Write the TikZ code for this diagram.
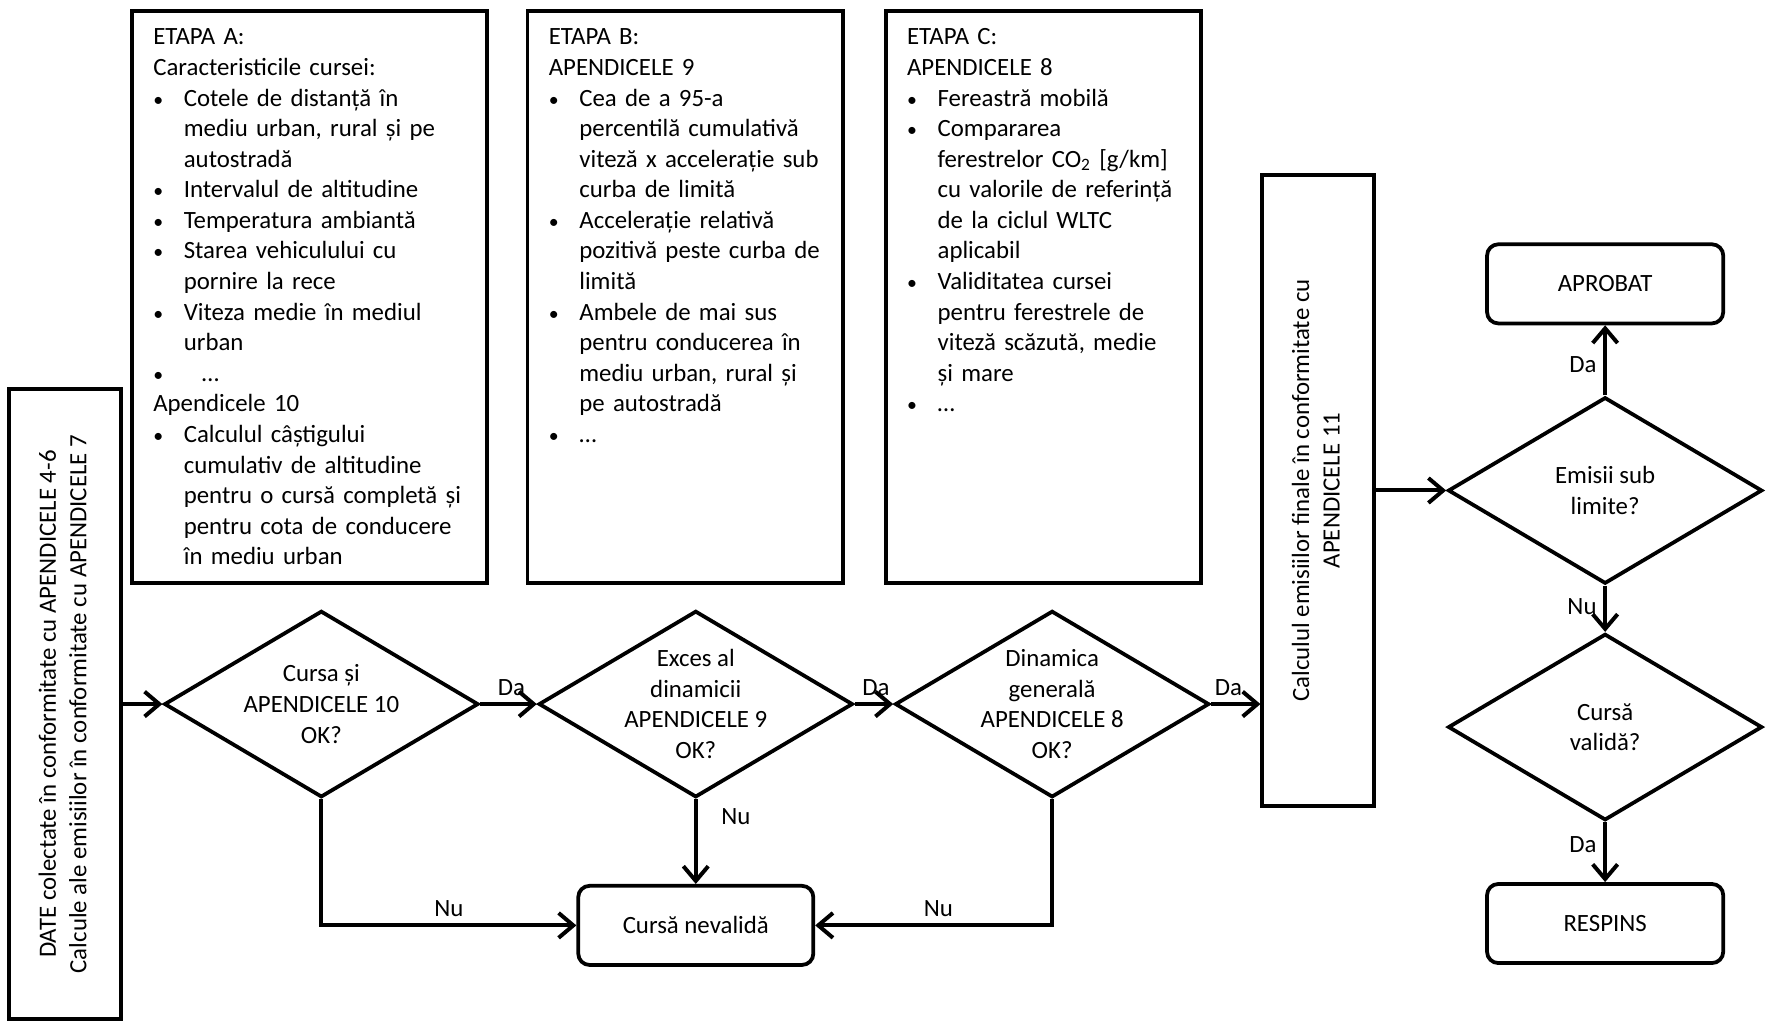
\documentclass[tikz,border=0pt]{standalone}
\usepackage{fontspec}
\setmainfont{Carlito}
\usetikzlibrary{shapes.geometric, arrows.meta, positioning}
\newcommand{\bl}{\makebox[0.54cm][l]{\scalebox{0.8}{\textbullet}}}
\newcommand{\ind}{\hspace*{0.54cm}}
\tikzset{
    stage/.style={rectangle, draw, line width=1.9pt, align=left, anchor=north west, inner xsep=0.38cm, inner ysep=0.22cm, text height=0.38cm, text depth=9.3cm},
    tall/.style={rectangle, draw, line width=1.9pt, minimum width=1.98cm, minimum height=11.16cm, inner sep=0pt},
    decision/.style={diamond, draw, line width=1.9pt, aspect=1.7, inner sep=-0.2cm, minimum width=5.56cm, minimum height=3.3cm, align=center},
    block/.style={rectangle, draw, line width=1.9pt, rounded corners=0.2cm, minimum width=4.18cm, minimum height=1.4cm},
    arrow/.style={-{Straight Barb[length=2.6mm, width=4.4mm]}, line width=2pt},
}
\begin{document}
\begin{tikzpicture}[node distance=1cm, font=\fontsize{12.5}{15.4}\selectfont]
    \useasboundingbox (0,0) rectangle (31.36,-18.2);
    \node[stage, text width=5.52cm] (etA) at (2.3,-0.16) {ETAPA A:\\Caracteristicile cursei:\\\bl Cotele de distanță în\\\ind mediu urban, rural și pe\\\ind autostradă\\\bl Intervalul de altitudine\\\bl Temperatura ambiantă\\\bl Starea vehiculului cu\\\ind pornire la rece\\\bl Viteza medie în mediul\\\ind urban\\\bl\hspace*{0.32cm}\dots\\Apendicele 10\\\bl Calculul câștigului\\\ind cumulativ de altitudine\\\ind pentru o cursă completă și\\\ind pentru cota de conducere\\\ind în mediu urban};
    \node[stage, text width=4.82cm] (etB) at (9.3,-0.16) {ETAPA B:\\APENDICELE 9\\\bl Cea de a 95-a\\\ind percentilă cumulativă\\\ind viteză x accelerație sub\\\ind curba de limită\\\bl Accelerație relativă\\\ind pozitivă peste curba de\\\ind limită\\\bl Ambele de mai sus\\\ind pentru conducerea în\\\ind mediu urban, rural și\\\ind pe autostradă\\\bl\dots};
    \node[stage, text width=4.82cm] (etC) at (15.64,-0.16) {ETAPA C:\\APENDICELE 8\\\bl Fereastră mobilă\\\bl Compararea\\\ind ferestrelor CO\textsubscript{2} [g/km]\\\ind cu valorile de referință\\\ind de la ciclul WLTC\\\ind aplicabil\\\bl Validitatea cursei\\\ind pentru ferestrele de\\\ind viteză scăzută, medie\\\ind și mare\\\bl\dots};
    \node[tall] (date) at (1.15,-12.46) {\rotatebox{90}{\begin{tabular}{@{}c@{}}DATE colectate în conformitate cu APENDICELE 4-6\\Calcule ale emisiilor în conformitate cu APENDICELE 7\end{tabular}}};
    \node[decision, right=0.7cm of date] (d1) {Cursa și\\APENDICELE 10\\OK?};
    \node[decision, right=1cm of d1] (d2) {Exces al\\dinamicii\\APENDICELE 9\\OK?};
    \node[decision, right=0.68cm of d2] (d3) {Dinamica\\generală\\APENDICELE 8\\OK?};
    \node[block, minimum width=4.16cm, below=1.5cm of d2] (inval) {Cursă nevalidă};
    \node[tall] (calc) at (23.33,-8.68) {\rotatebox{90}{\begin{tabular}{@{}c@{}}Calculul emisiilor finale în conformitate cu\\APENDICELE 11\end{tabular}}};
    \node[decision, right=1.24cm of calc] (em) {Emisii sub\\limite?};
    \node[block, above=1.24cm of em] (aprob) {APROBAT};
    \node[decision, below=0.82cm of em] (valid) {Cursă\\validă?};
    \node[block, below=1.06cm of valid] (resp) {RESPINS};
    \draw[arrow] (date) -- (d1);
    \draw[arrow] (d1) -- node[pos=0.55, above]{Da} (d2);
    \draw[arrow] (d2) -- node[pos=0.55, above]{Da} (d3);
    \draw[arrow] (d3.east) -- node[pos=0.35, above]{Da} (d3.east -| calc.west);
    \draw[arrow] (d1.south) |- node[pos=0.75, above]{Nu} (inval.west);
    \draw[arrow] (d2) -- node[pos=0.2, right=0.3cm]{Nu} (inval);
    \draw[arrow] (d3.south) |- node[pos=0.74, above]{Nu} (inval.east);
    \draw[arrow] (calc.east |- em.west) -- (em.west);
    \draw[arrow] (em) -- node[pos=0.44, left]{Da} (aprob);
    \draw[arrow] (em) -- node[pos=0.46, left]{Nu} (valid);
    \draw[arrow] (valid) -- node[pos=0.38, left]{Da} (resp);
\end{tikzpicture}
\end{document}
